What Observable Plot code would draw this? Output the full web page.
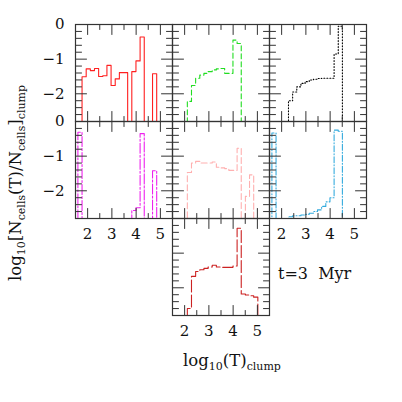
<!DOCTYPE html>
<html><head><meta charset="utf-8">
<script src="https://cdn.jsdelivr.net/npm/d3@7"></script>
<script src="https://cdn.jsdelivr.net/npm/@observablehq/plot@0.6"></script>
<style>body{margin:0;background:#fff}</style>
</head><body><div id="chart"></div>
<script>
// bin edges of log10(T)
const binEdges = [1.599, 1.770, 1.941, 2.112, 2.283, 2.454, 2.625, 2.796, 2.967, 3.138, 3.309,
                  3.480, 3.651, 3.822, 3.993, 4.164, 4.335, 4.506, 4.677, 4.848, 5.019];
// values per bin (null = empty bin)
const redSeries     = [null,-1.51,-1.28,-1.33,-1.27,-1.50,-1.48,-1.18,-1.76,-1.57,-1.39,-1.39,null,-1.36,-1.05,-0.36,null,null,-1.42,null];
const greenSeries   = [null,null,null,-2.22,-1.76,-1.55,-1.46,-1.41,-1.36,-1.31,-1.28,-1.27,-1.41,-1.41,-0.45,-0.55,null,null,null,null];
const blackSeries   = [null,null,null,null,-2.20,-1.95,-1.80,-1.70,-1.65,-1.60,-1.58,-1.56,-1.55,-1.55,-1.55,-0.85,-0.05,null,null,null];
const magentaSeries = [-0.31,null,null,null,null,null,null,null,null,null,null,null,null,-2.57,-2.49,-0.35,null,null,-1.42,null];
const pinkSeries    = [null,null,null,-1.47,-1.20,-1.15,-1.20,-1.20,-1.20,-1.17,-1.32,-1.34,-1.36,-1.41,-1.41,-0.77,null,-2.16,-1.54,null];
const cyanSeries    = [-0.33,null,null,null,-2.75,-2.72,-2.72,-2.70,-2.68,-2.65,-2.60,-2.55,-2.45,-2.32,-2.20,-0.25,-0.28,null,null,null];
const brownSeries   = [null,null,null,-2.60,-1.67,-1.53,-1.48,-1.44,-1.40,-1.35,-1.40,-1.41,-1.41,-1.41,-1.37,-0.28,-2.18,-2.21,-2.23,-2.27];

const panelSeries = [redSeries, greenSeries, blackSeries, magentaSeries, pinkSeries, cyanSeries, brownSeries];
const panelCol = [0, 1, 2, 0, 1, 2, 1];
const panelRow = [0, 0, 0, 1, 1, 1, 2];
const panelColor = ["#ff2020", "#22dd22", "#000000", "#ee22ee", "#ffb0b0", "#33aadd", "#cc2222"];
const panelDash = [null, "5,3", "1,2", "10,2,2,2", "6,3", "6,2,1,2", "12,3"];

const xMajorTicks = [2, 3, 4, 5];
const xMinorTicks = [2.5, 3.5, 4.5];
const yMajorTicks = [-1, -2];
const yMinorTicks = [-0.2, -0.4, -0.6, -0.8, -1.2, -1.4, -1.6, -1.8, -2.2, -2.4, -2.6];
const xTickLabels = [2, 3, 4, 5];
const yTickLabels = [0, -1, -2];
const xLabelPanels = [[0, 1], [2, 1], [1, 2]];
const yLabelPanels = [[0, 0], [0, 1]];
const FLOOR = -3.3;

const W = 402, H = 402, ML = 74, MR = 35, MT = 23, MB = 87;

function stepPoints(vals, p) {
  const first = vals.findIndex(v => v != null);
  let last = vals.length - 1;
  while (vals[last] == null) last--;
  const pts = [{x: binEdges[first], y: FLOOR}];
  for (let j = first; j <= last; j++) {
    const v = vals[j] == null ? FLOOR : vals[j];
    pts.push({x: binEdges[j], y: v}, {x: binEdges[j + 1], y: v});
  }
  pts.push({x: binEdges[last + 1], y: FLOOR});
  return pts.map(d => ({...d, fx: panelCol[p], fy: panelRow[p]}));
}
const perPanel = ticks => panelCol.flatMap((c, p) => ticks.map(v => ({fx: c, fy: panelRow[p], v})));

const FONT = "DejaVu Serif";
const tickStroke = "#333";
const marks = [];
panelSeries.forEach((vals, p) => {
  marks.push(Plot.line(stepPoints(vals, p), {
    x: "x", y: "y", fx: "fx", fy: "fy", stroke: panelColor[p], strokeWidth: 1.1,
    strokeDasharray: panelDash[p], clip: true
  }));
});
// inward tick shapes
const shapes = {
  bottom: {draw(c, l) { c.moveTo(0, 0); c.lineTo(0, -l); }},
  top:    {draw(c, l) { c.moveTo(0, 0); c.lineTo(0, l); }},
  left:   {draw(c, l) { c.moveTo(0, 0); c.lineTo(l, 0); }},
  right:  {draw(c, l) { c.moveTo(0, 0); c.lineTo(-l, 0); }}
};
const tick = (ticks, len, side) => Plot.vector(perPanel(ticks), {
  ...(side === "bottom" || side === "top" ? {x: "v"} : {y: "v"}),
  fx: "fx", fy: "fy", frameAnchor: side, length: len, anchor: "start",
  shape: shapes[side], stroke: tickStroke, strokeWidth: 1
});
const MAJ = 10, MIN = 5;
marks.push(
  tick(xMajorTicks, MAJ, "bottom"), tick(xMinorTicks, MIN, "bottom"),
  tick(xMajorTicks, MAJ, "top"), tick(xMinorTicks, MIN, "top"),
  tick(yMajorTicks, MAJ + 1, "left"), tick(yMinorTicks, MIN + 1, "left"),
  tick(yMajorTicks, MAJ + 1, "right"), tick(yMinorTicks, MIN + 1, "right"),
  Plot.frame({stroke: tickStroke, strokeWidth: 1.2})
);
const xLab = xLabelPanels.flatMap(([c, r]) => xTickLabels.map(v => ({fx: c, fy: r, v})));
const yLab = yLabelPanels.flatMap(([c, r]) => yTickLabels.map(v => ({fx: c, fy: r, v})));
marks.push(
  Plot.text(xLab, {fx: "fx", fy: "fy", x: "v", text: d => String(d.v), frameAnchor: "bottom", lineAnchor: "top", dy: 10, fontFamily: FONT, fontSize: 15, fill: "#111"}),
  Plot.text(yLab, {fx: "fx", fy: "fy", y: "v", text: d => d.v === 0 ? "0" : "\u2212" + Math.abs(d.v), frameAnchor: "left", textAnchor: "end", dx: -11, fontFamily: FONT, fontSize: 15, fill: "#111"})
);

const svg = Plot.plot({
  width: W, height: H,
  marginLeft: ML, marginRight: MR, marginTop: MT, marginBottom: MB,
  facet: {marginTop: 0, marginBottom: 0, marginLeft: 0, marginRight: 0},
  fx: {domain: [0, 1, 2], padding: 0, axis: null},
  fy: {domain: [0, 1, 2], padding: 0, axis: null},
  x: {domain: [1.5, 5.5], axis: null},
  y: {domain: [-2.8, 0], axis: null},
  style: {background: "#fff"},
  marks
});

const s = d3.select(svg);
function addRich(t, parts) {
  let prevSub = false;
  parts.forEach(([txt, sub]) => {
    const ts = t.append("tspan").text(txt);
    if (sub) { ts.attr("font-size", 11); if (!prevSub) ts.attr("dy", 4); }
    else if (prevSub) ts.attr("dy", -4);
    prevSub = sub;
  });
}
// y axis title
const yt = s.append("text").attr("transform", "translate(21,183) rotate(-90)")
  .attr("text-anchor", "middle").attr("font-family", FONT).attr("font-size", 16.5).attr("fill", "#111");
addRich(yt, [["log", false], ["10", true], ["[N", false], ["cells", true], ["(T)/N", false], ["cells", true], ["]", false], ["clump", true]]);
// x axis title
const xt = s.append("text").attr("x", 183).attr("y", 366).attr("text-anchor", "start")
  .attr("font-family", FONT).attr("font-size", 16.5).attr("fill", "#111");
addRich(xt, [["log", false], ["10", true], ["(T)", false], ["clump", true]]);
// time annotation
s.append("text").attr("x", 278).attr("y", 279).attr("text-anchor", "start").attr("font-family", FONT).attr("font-size", 16)
  .attr("fill", "#111").style("white-space", "pre").text("t=3  Myr");

document.getElementById("chart").appendChild(svg);
</script>
</body></html>
